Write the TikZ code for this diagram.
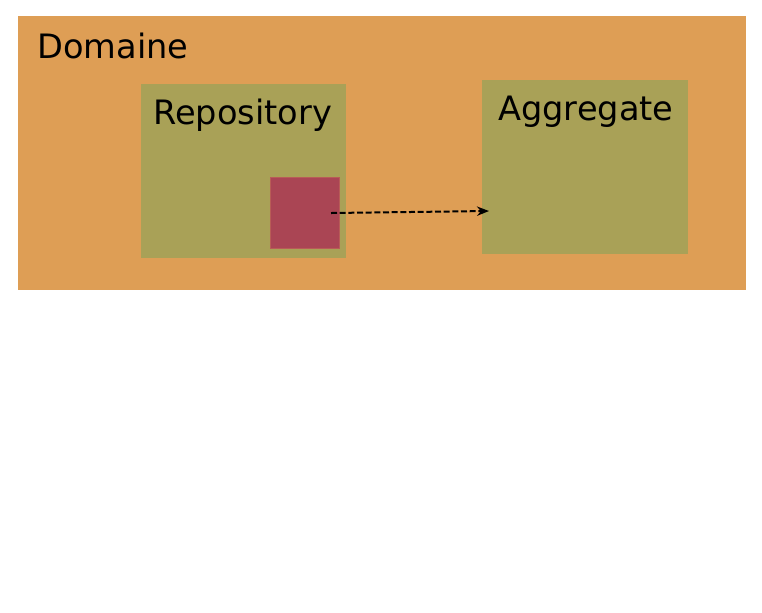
\documentclass[tikz,border=0pt]{standalone}
\usepackage{fontspec}
\setmainfont{DejaVu Sans}
\usetikzlibrary{arrows.meta}
\definecolor{domorange}{HTML}{DE9E55}
\definecolor{boxolive}{HTML}{A9A157}
\definecolor{boxred}{HTML}{AA4554}
\definecolor{boxredline}{HTML}{B85C57}
\tikzset{
  area/.style={draw=none, inner sep=0pt, outer sep=0pt, anchor=north west},
  title/.style={anchor=base west, inner sep=0pt, font=\fontsize{25.2}{28}\selectfont},
  link/.style={dash pattern=on 4.5pt off 2pt, line width=1.5pt, -{Stealth[length=9pt,width=7pt]}}
}
\begin{document}
\begin{tikzpicture}[x=0.75pt,y=-0.75pt]
\useasboundingbox (0,0) rectangle (762,612);
\fill[white] (0,0) rectangle (762,612);
% Domaine
\node[area, fill=domorange, minimum width=546pt, minimum height=205.5pt] (dom) at (18,16) {};
\node[title] (domlbl) at (37,58) {Domaine};
% Repository
\node[area, fill=boxolive, minimum width=153.75pt, minimum height=130.5pt] (repo) at (141,84) {};
\node[title] (repolbl) at (153,124) {Repository};
% Aggregate
\node[area, fill=boxolive, minimum width=154.5pt, minimum height=130.5pt] (agg) at (482,80) {};
\node[title] (agglbl) at (498,120) {Aggregate};
% red square
\node[area, fill=boxred, draw=boxredline, line width=0.9pt, minimum width=51.75pt, minimum height=53.25pt] (red) at (270.5,177.5) {};
\coordinate (src) at (331,213);
\coordinate (dst) at (489,211);
\draw[link] (src) -- (dst);
\end{tikzpicture}
\end{document}
